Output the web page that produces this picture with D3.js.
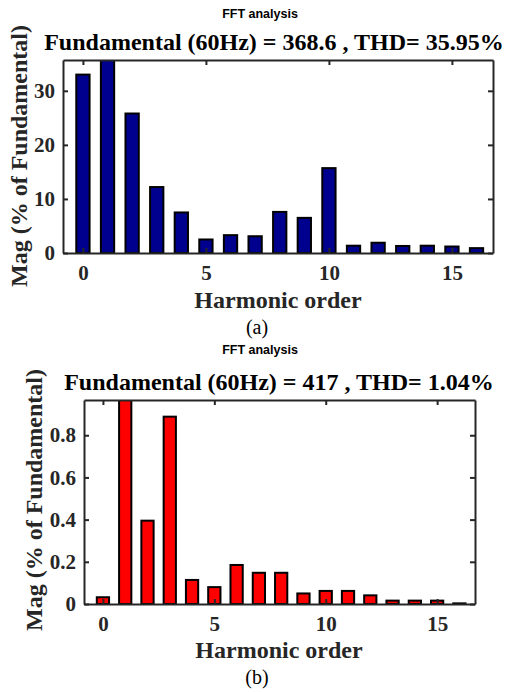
<!DOCTYPE html>
<html>
<head>
<meta charset="utf-8">
<script src="https://cdn.jsdelivr.net/npm/d3@7"></script>
<style>
  html, body { margin: 0; padding: 0; background: #fff; }
  svg { display: block; }
</style>
</head>
<body>
<div id="main"></div>
<script>
!(function () {
  'use strict';

  // data
  const harmonics = d3.range(0, 17);
  const magA = [33, 36.5, 25.8, 12.2, 7.5, 2.5, 3.3, 3.1, 7.6, 6.5, 15.7, 1.35, 1.9, 1.3, 1.35, 1.2, 0.9];
  const magB = [0.032, 1.0, 0.395, 0.888, 0.114, 0.08, 0.185, 0.148, 0.148, 0.05, 0.062, 0.062, 0.041, 0.016, 0.016, 0.016, 0.003];
  const xTicks = [0, 5, 10, 15];
  const yTicksA = [0, 10, 20, 30];
  const yTicksB = [0, 0.2, 0.4, 0.6, 0.8];
  const titleA = 'Fundamental (60Hz) = 368.6 , THD= 35.95%';
  const titleB = 'Fundamental (60Hz) = 417 , THD= 1.04%';

  const svg = d3.select('#main').append('svg')
    .attr('width', 509)
    .attr('height', 692);

  const serif = '"Liberation Serif", "Times New Roman", serif';
  const sans = '"Liberation Sans", Arial, sans-serif';

  function drawPanel(p) {
    const x = d3.scaleLinear().domain(p.xDomain).range([p.left, p.right]);
    const y = d3.scaleLinear().domain(p.yDomain).range([p.bottom, p.top]);
    const g = svg.append('g');

    g.append('clipPath').attr('id', p.id)
      .append('rect')
      .attr('x', p.left).attr('y', p.top)
      .attr('width', p.right - p.left).attr('height', p.bottom - p.top);

    // bars
    g.append('g').attr('clip-path', 'url(#' + p.id + ')')
      .selectAll('rect')
      .data(p.values)
      .join('rect')
      .attr('x', (d, i) => x(harmonics[i] - p.barW / 2))
      .attr('width', x(p.barW) - x(0))
      .attr('y', d => y(d))
      .attr('height', d => y(0) - y(d))
      .attr('fill', p.color)
      .attr('stroke', '#000')
      .attr('stroke-width', 2);

    // axes with inward ticks on all sides
    const axisStyle = sel => {
      sel.select('.domain').attr('stroke', '#262626').attr('stroke-width', 2);
      sel.selectAll('.tick line').attr('stroke', '#262626').attr('stroke-width', 2);
      sel.selectAll('.tick text')
        .attr('fill', '#262626')
        .style('font-family', serif)
        .style('font-weight', 'bold')
        .style('font-size', p.tickSize + 'px');
    };

    g.append('g')
      .attr('transform', 'translate(0,' + p.bottom + ')')
      .call(d3.axisBottom(x).tickValues(xTicks).tickSizeInner(-5).tickSizeOuter(0).tickPadding(12))
      .call(axisStyle);
    g.append('g')
      .attr('transform', 'translate(0,' + p.top + ')')
      .call(d3.axisTop(x).tickValues(xTicks).tickSizeInner(-5).tickSizeOuter(0).tickFormat(''))
      .call(axisStyle);
    g.append('g')
      .attr('transform', 'translate(' + p.left + ',0)')
      .call(d3.axisLeft(y).tickValues(p.yTicks).tickSizeInner(-5).tickSizeOuter(0).tickPadding(8)
        .tickFormat(d3.format(p.yFormat)))
      .call(axisStyle);
    g.append('g')
      .attr('transform', 'translate(' + p.right + ',0)')
      .call(d3.axisRight(y).tickValues(p.yTicks).tickSizeInner(-5).tickSizeOuter(0).tickFormat(''))
      .call(axisStyle);

    // texts
    g.append('text')
      .attr('x', 260).attr('y', p.fftY)
      .attr('text-anchor', 'middle')
      .style('font-family', sans).style('font-weight', 'bold').style('font-size', '12.5px')
      .text('FFT analysis');

    g.append('text')
      .attr('x', p.titleX).attr('y', p.titleY)
      .attr('text-anchor', 'middle')
      .style('font-family', serif).style('font-weight', 'bold').style('font-size', p.titleSize + 'px')
      .text(p.title);

    g.append('text')
      .attr('transform', 'translate(' + p.ylabX + ',' + p.ylabY + ') rotate(-90)')
      .attr('text-anchor', 'middle')
      .attr('fill', '#262626')
      .style('font-family', serif).style('font-weight', 'bold').style('font-size', p.labelSize + 'px')
      .text('Mag (% of Fundamental)');

    g.append('text')
      .attr('x', p.xlabX).attr('y', p.xlabY)
      .attr('text-anchor', 'middle')
      .attr('fill', '#262626')
      .style('font-family', serif).style('font-weight', 'bold').style('font-size', p.labelSize + 'px')
      .text('Harmonic order');

    g.append('text')
      .attr('x', 257).attr('y', p.capY)
      .attr('text-anchor', 'middle')
      .style('font-family', serif).style('font-size', '20px')
      .text(p.caption);
  }

  drawPanel({
    id: 'clipA', values: magA, color: '#00008f',
    left: 63, right: 493, top: 60, bottom: 253,
    xDomain: [-0.81, 16.67], yDomain: [0, 35.7], barW: 0.54,
    yTicks: yTicksA, yFormat: 'd', tickSize: 21,
    title: titleA, titleX: 274, titleY: 50, titleSize: 24,
    fftY: 18, ylabX: 27, ylabY: 156, labelSize: 24,
    xlabX: 278, xlabY: 308, capY: 334, caption: '(a)'
  });

  drawPanel({
    id: 'clipB', values: magB, color: '#ff0000',
    left: 84, right: 475, top: 400, bottom: 604,
    xDomain: [-0.85, 16.7], yDomain: [0, 0.967], barW: 0.55,
    yTicks: yTicksB, yFormat: '', tickSize: 21,
    title: titleB, titleX: 279, titleY: 390, titleSize: 24,
    fftY: 354, ylabX: 42, ylabY: 500, labelSize: 24,
    xlabX: 279, xlabY: 658, capY: 684, caption: '(b)'
  });
}());
</script>
</body>
</html>
